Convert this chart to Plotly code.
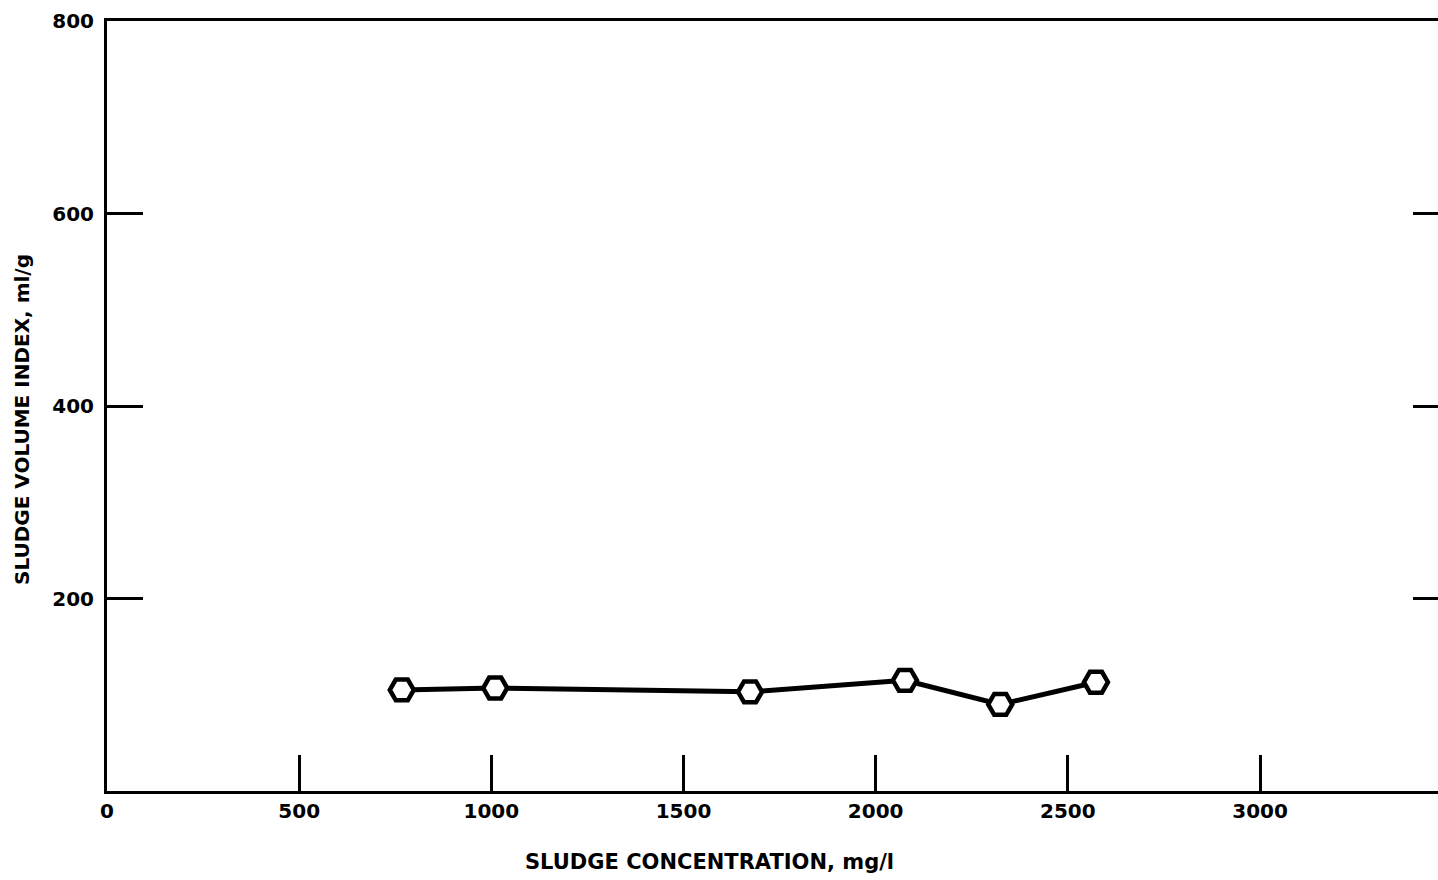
import plotly.graph_objects as go

# Data
sludge_conc = [767, 1010, 1673, 2076, 2324, 2573]        # mg/l
svi = [105, 107, 103, 115, 90, 113]                      # ml/g

x_tickvals = [0, 500, 1000, 1500, 2000, 2500, 3000]
x_ticktext = ["0", "500", "1000", "1500", "2000", "2500", "3000"]
y_tickvals = [200, 400, 600, 800]
y_ticktext = ["200", "400", "600", "800"]
y_right_ticks = [200, 400, 600]

x_title = "SLUDGE CONCENTRATION, mg/l"
y_title = "SLUDGE VOLUME INDEX, ml/g"

FONT = "DejaVu Sans"

fig = go.Figure()
fig.add_trace(go.Scatter(
    x=sludge_conc, y=svi, mode="lines+markers",
    line=dict(color="black", width=5),
    marker=dict(symbol="hexagon2", size=24, color="white",
                line=dict(color="black", width=4.5)),
    showlegend=False, cliponaxis=False,
))
# invisible trace to enable the right-side tick axis
fig.add_trace(go.Scatter(x=[None], y=[None], yaxis="y2", showlegend=False))

fig.update_layout(
    width=1438, height=880,
    margin=dict(l=107, r=0, t=21, b=89),
    paper_bgcolor="white", plot_bgcolor="white",
    font=dict(family=FONT, color="black"),
    xaxis=dict(
        range=[0, 3463], tickvals=x_tickvals, ticktext=x_ticktext,
        ticks="inside", ticklen=36, tickwidth=2.5, tickcolor="black",
        showline=True, linecolor="black", linewidth=2.5, mirror=True,
        showgrid=False, zeroline=False, ticklabelstandoff=0,
        tickfont=dict(family=FONT, size=20, weight="bold"),
    ),
    yaxis=dict(
        range=[0, 800], tickvals=y_tickvals, ticktext=y_ticktext,
        ticks="inside", ticklen=36, tickwidth=2.5, tickcolor="black",
        showline=True, linecolor="black", linewidth=3,
        showgrid=False, zeroline=False, ticklabelstandoff=6,
        tickfont=dict(family=FONT, size=20, weight="bold"),
    ),
    yaxis2=dict(
        range=[0, 800], overlaying="y", side="right",
        tickvals=y_right_ticks, ticks="inside", ticklen=25, tickwidth=3,
        tickcolor="black", showticklabels=False, showline=False,
        showgrid=False, zeroline=False,
    ),
    annotations=[
        dict(text=x_title, xref="paper", yref="paper",
             x=(709 - 107) / (1438 - 107), y=-(862 - 791) / 770,
             xanchor="center", yanchor="middle", showarrow=False,
             font=dict(family=FONT, size=21, weight="bold")),
        dict(text=y_title, xref="paper", yref="paper",
             x=-(107 - 22) / (1438 - 107), y=(791 - 420) / 770,
             xanchor="center", yanchor="middle", showarrow=False, textangle=-90,
             font=dict(family=FONT, size=20, weight="bold")),
    ],
)

fig.write_html("out.html")
